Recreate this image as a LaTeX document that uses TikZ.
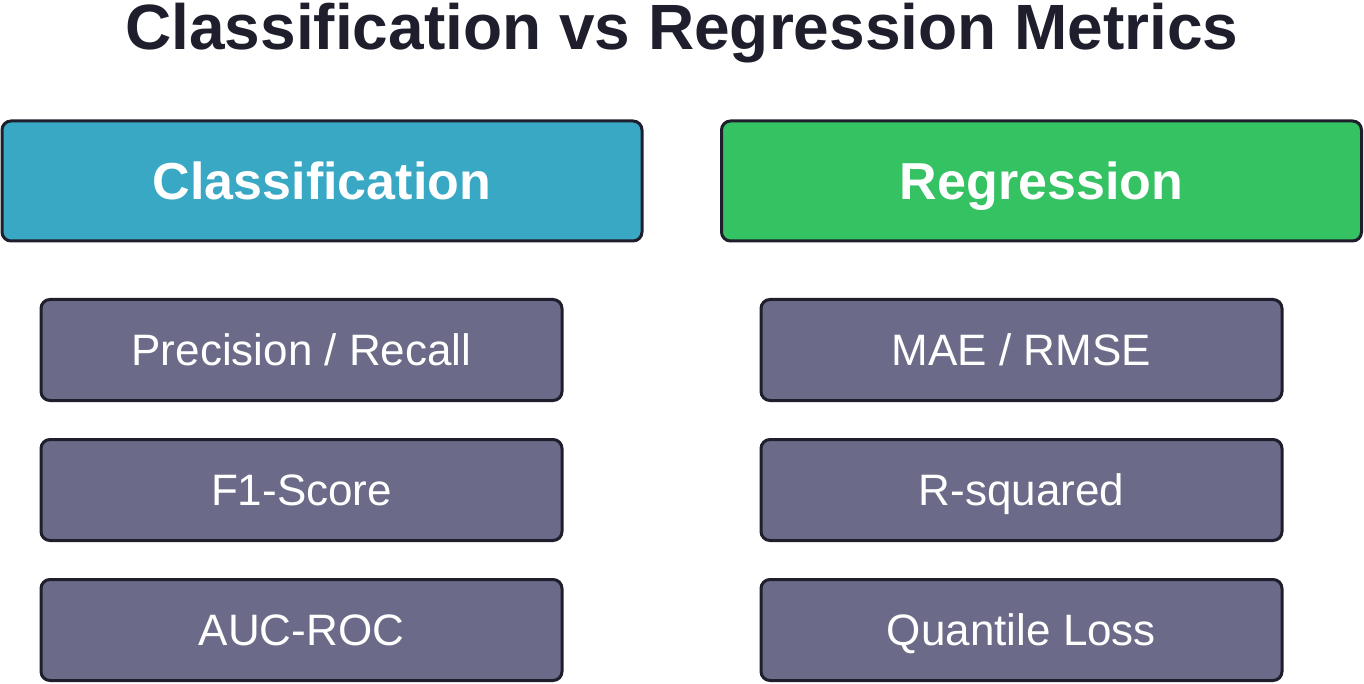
\documentclass[tikz,border=0pt]{standalone}
\usepackage{fontspec}
\setmainfont{Liberation Sans}
\definecolor{edge}{HTML}{1E1E2C}
\definecolor{cls}{HTML}{39A8C5}
\definecolor{reg}{HTML}{34C263}
\definecolor{item}{HTML}{6B6B89}
\begin{document}
\begin{tikzpicture}[x=1pt,y=-1pt,
  box/.style={draw=edge,line width=3pt,rounded corners=9pt,inner sep=0pt,text depth=0pt},
  head/.style={box,text height=37.2pt,minimum width=640pt,minimum height=120pt,text=white,font=\fontsize{52}{60}\selectfont\bfseries},
  itm/.style={box,text height=31.5pt,fill=item,minimum width=521pt,minimum height=101pt,text=white,font=\fontsize{44}{52}\selectfont}]
\useasboundingbox (0,0) rectangle (1364,684);
\node[text=edge,font=\fontsize{64}{70}\selectfont\bfseries,text height=45.8pt,text depth=0pt,inner sep=0pt] (t) at (682,27) {Classification vs Regression Metrics};
\node[head,fill=cls] (c) at (322,181) {Classification};
\node[head,fill=reg] (r) at (1041.5,181) {Regression};
\node[itm] (c1) at (301.5,350) {Precision / Recall};
\node[itm] (c2) at (301.5,490) {F1-Score};
\node[itm] (c3) at (301.5,630) {AUC-ROC};
\node[itm] (r1) at (1021.5,350) {MAE / RMSE};
\node[itm] (r2) at (1021.5,490) {R-squared};
\node[itm] (r3) at (1021.5,630) {Quantile Loss};
\end{tikzpicture}
\end{document}
